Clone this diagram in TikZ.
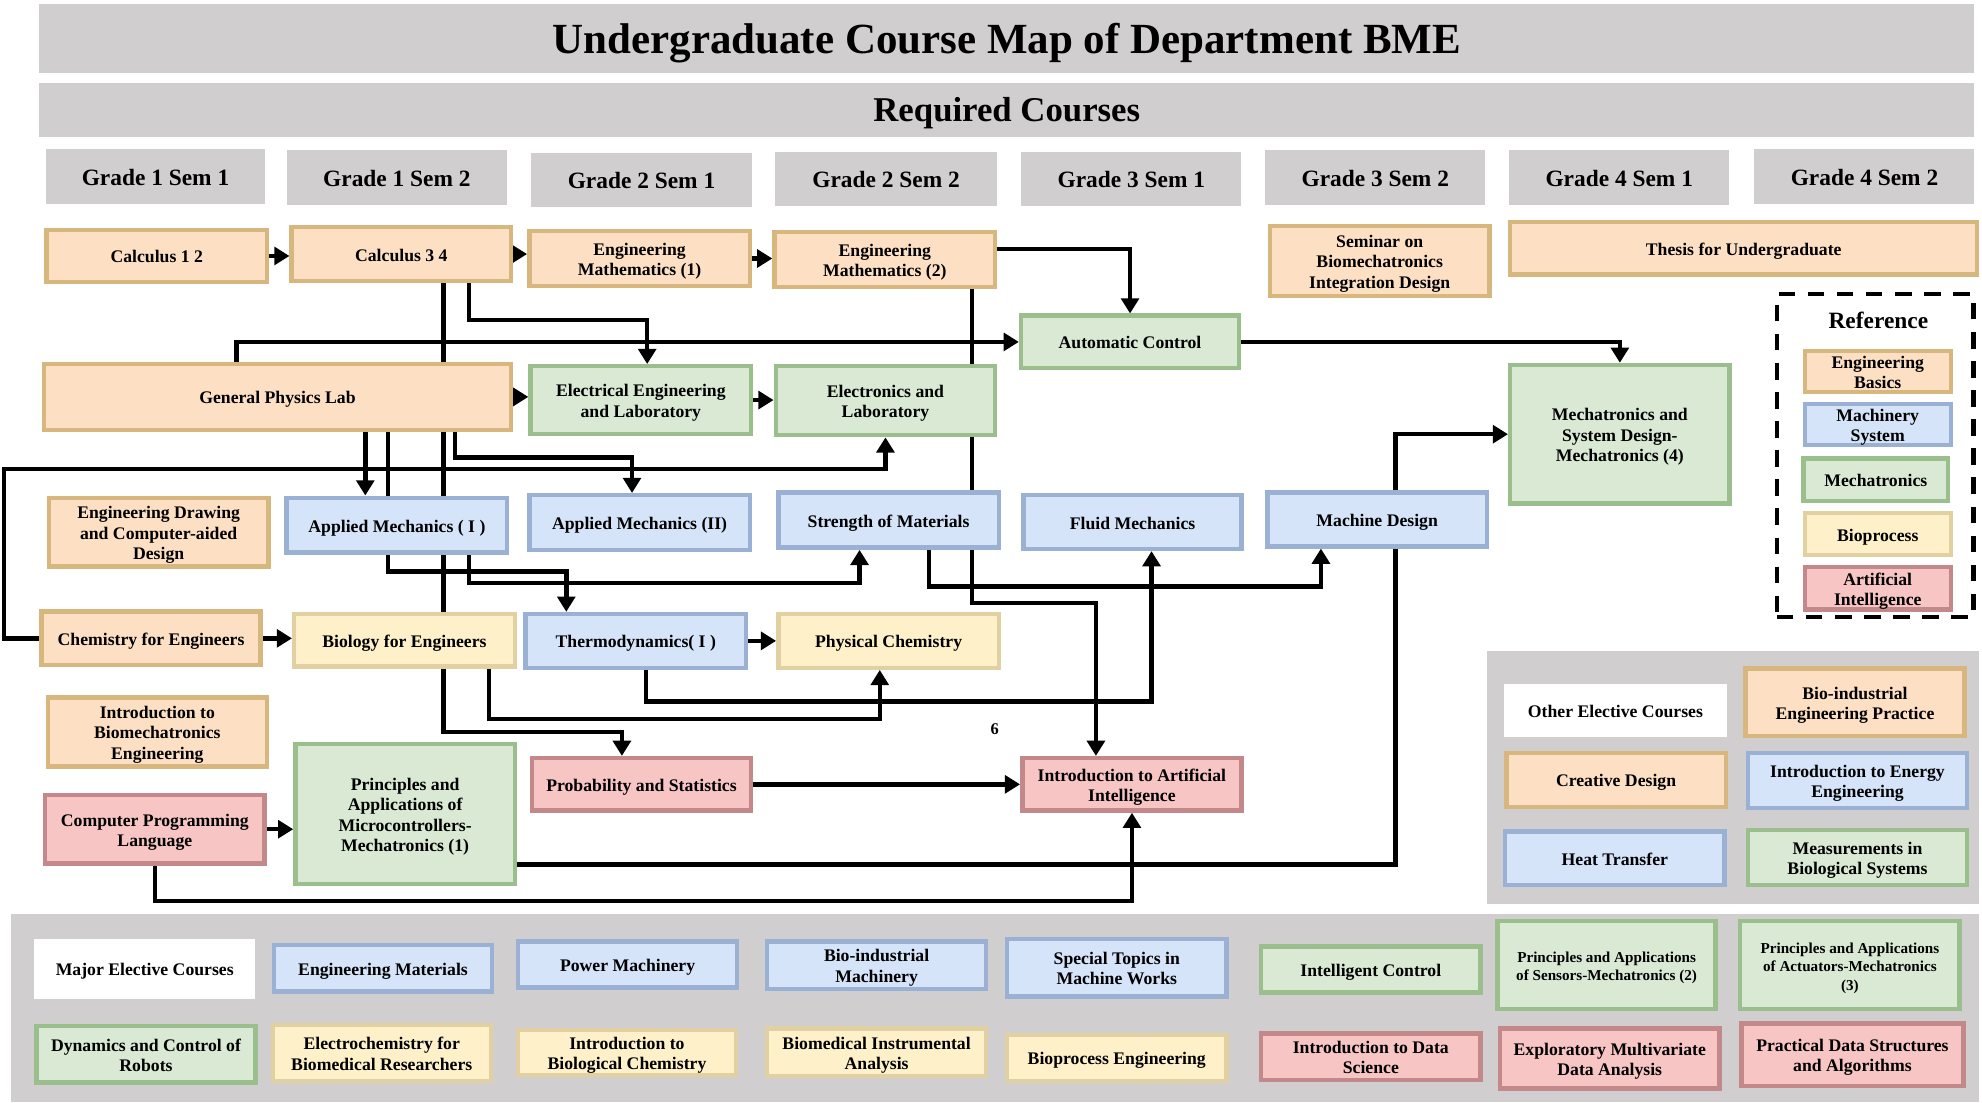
\documentclass[tikz,border=0pt]{standalone}
\usepackage{fontspec}
\setmainfont{Liberation Serif}
\usetikzlibrary{arrows.meta}
\definecolor{ebF}{HTML}{FDE0C4}
\definecolor{ebD}{HTML}{D8B77E}
\definecolor{msF}{HTML}{D5E4F8}
\definecolor{msD}{HTML}{9AB1D4}
\definecolor{meF}{HTML}{D9E9D4}
\definecolor{meD}{HTML}{9ABF8D}
\definecolor{bpF}{HTML}{FEF0C8}
\definecolor{bpD}{HTML}{E0D0A2}
\definecolor{aiF}{HTML}{F6C5C4}
\definecolor{aiD}{HTML}{C3898A}
\definecolor{grayP}{HTML}{D0CECF}
\pgfdeclarelayer{bg}\pgfdeclarelayer{lines}\pgfsetlayers{bg,lines,main}
\newcommand{\lowtext}[1]{\raisebox{-2.3pt}[\height][\depth]{\begin{tabular}{@{}c@{}}#1\end{tabular}}}
% name, style, x1, y1, x2, y2, text  (bordered course box, outer edges)
\newcommand{\cb}[7]{\node[#2, minimum width={#5-#3-3.5}, minimum height={#6-#4-3.5}] (#1) at ({(#3+#5)/2},{-(#4+#6)/2}) {\lowtext{#7}};}
% flat box without border
\newcommand{\fb}[7]{\node[#2, minimum width={#5-#3}, minimum height={#6-#4}] (#1) at ({(#3+#5)/2},{-(#4+#6)/2}) {#7};}
\tikzset{
  crsbox/.style={draw, line width=3.5pt, inner sep=0pt, align=center, font=\bfseries\fontsize{14}{16}\selectfont},
  cEB/.style={crsbox, fill=ebF, draw=ebD},
  cMS/.style={crsbox, fill=msF, draw=msD},
  cME/.style={crsbox, fill=meF, draw=meD},
  cBP/.style={crsbox, fill=bpF, draw=bpD},
  cAI/.style={crsbox, fill=aiF, draw=aiD},
  smallf/.style={font=\bfseries\fontsize{12}{14.5}\selectfont},
  whitebox/.style={fill=white, inner sep=0pt, align=center, font=\bfseries\fontsize{14}{16}\selectfont},
  gbar/.style={fill=grayP, inner sep=0pt, align=center},
  gradef/.style={gbar, font=\bfseries\fontsize{18.5}{22}\selectfont},
  conn/.style={line width=3.5pt, draw=black},
  arr/.style={conn, -{Triangle[length=12pt,width=14pt]}},
}
\newcommand{\gr}[1]{\raisebox{-7pt}[0pt][0pt]{#1}}
\begin{document}
\begin{tikzpicture}[x=1pt,y=1pt]
\useasboundingbox (0,0) rectangle (1568,-872);
% panels
\begin{pgfonlayer}{bg}
\fb{othP}{gbar}{1176}{515}{1566}{715}{}
\fb{majP}{gbar}{9}{723}{1566}{872}{}
\end{pgfonlayer}
% headers
\fb{title}{gbar, font=\bfseries\fontsize{34}{40}\selectfont}{31}{3}{1562}{58}{\raisebox{-11.5pt}[0pt][0pt]{Undergraduate Course Map of Department BME}}
\fb{req}{gbar, font=\bfseries\fontsize{27.5}{32}\selectfont}{31}{66}{1562}{108}{\raisebox{-9.5pt}[0pt][0pt]{Required Courses}}
\fb{g11}{gradef}{36}{118}{210}{161}{\gr{Grade 1 Sem 1}}
\fb{g12}{gradef}{227}{119}{401}{162}{\gr{Grade 1 Sem 2}}
\fb{g21}{gradef}{420}{121}{595}{164}{\gr{Grade 2 Sem 1}}
\fb{g22}{gradef}{613}{120}{789}{163}{\gr{Grade 2 Sem 2}}
\fb{g31}{gradef}{808}{120}{982}{163}{\gr{Grade 3 Sem 1}}
\fb{g32}{gradef}{1001}{119}{1175}{162}{\gr{Grade 3 Sem 2}}
\fb{g41}{gradef}{1194}{119}{1368}{162}{\gr{Grade 4 Sem 1}}
\fb{g42}{gradef}{1388}{118}{1562}{161}{\gr{Grade 4 Sem 2}}
% engineering basics
\cb{calc12}{cEB}{35}{180}{213}{225}{Calculus 1 2}
\cb{calc34}{cEB}{229}{178}{406}{224}{Calculus 3 4}
\cb{em1}{cEB}{417}{181}{595}{228}{Engineering\\Mathematics (1)}
\cb{em2}{cEB}{611}{182}{789}{229}{Engineering\\Mathematics (2)}
\cb{sem}{cEB}{1003}{177}{1180}{236}{Seminar on\\Biomechatronics\\Integration Design}
\cb{thesis}{cEB}{1193}{174}{1566}{219}{Thesis for Undergraduate}
\cb{gpl}{cEB}{33}{286}{406}{342}{General Physics Lab}
\cb{ed}{cEB}{37}{392}{214}{450}{Engineering Drawing\\and Computer-aided\\Design}
\cb{chem}{cEB}{31}{482}{208}{528}{Chemistry for Engineers}
\cb{ibe}{cEB}{36}{550}{213}{608}{Introduction to\\Biomechatronics\\Engineering}
% mechatronics
\cb{ac}{cME}{806}{248}{982}{293}{Automatic Control}
\cb{ee}{cME}{418}{288}{596}{345}{Electrical Engineering\\and Laboratory}
\cb{el}{cME}{612}{288}{789}{346}{Electronics and\\Laboratory}
\cb{msd}{cME}{1193}{287}{1370}{400}{Mechatronics and\\System Design-\\Mechatronics (4)}
\cb{mc1}{cME}{232}{587}{409}{701}{Principles and\\Applications of\\Microcontrollers-\\Mechatronics (1)}
% machinery
\cb{am1}{cMS}{225}{392}{403}{439}{Applied Mechanics ( I )}
\cb{am2}{cMS}{417}{390}{595}{437}{Applied Mechanics (II)}
\cb{som}{cMS}{614}{388}{792}{435}{Strength of Materials}
\cb{fm}{cMS}{808}{390}{984}{436}{Fluid Mechanics}
\cb{md}{cMS}{1001}{388}{1178}{434}{Machine Design}
\cb{thermo}{cMS}{414}{484}{592}{530}{Thermodynamics( I )}
% bioprocess
\cb{bio}{cBP}{231}{484}{409}{529}{Biology for Engineers}
\cb{pc}{cBP}{614}{484}{792}{530}{Physical Chemistry}
% AI
\cb{cpl}{cAI}{34}{627}{211}{685}{Computer Programming\\Language}
\cb{ps}{cAI}{419}{598}{596}{643}{Probability and Statistics}
\cb{iai}{cAI}{807}{598}{984}{643}{Introduction to Artificial\\Intelligence}
\node[font=\bfseries\fontsize{13}{15}\selectfont, anchor=base] (six) at (787,-581) {6};
% reference legend
\node[draw, line width=3.5pt, dash pattern=on 13pt off 10pt, minimum width=155.5pt, minimum height=255.5pt, inner sep=0pt] (refbox) at (1483.5,-360.5) {};
\node[font=\bfseries\fontsize{18.5}{22}\selectfont, anchor=base] (reftitle) at (1486,-260) {Reference};
\cb{legEB}{cEB}{1426}{276}{1545}{312}{Engineering\\Basics}
\cb{legMS}{cMS}{1426}{318}{1545}{354}{Machinery\\System}
\cb{legME}{cME}{1425}{361}{1543}{398}{Mechatronics}
\cb{legBP}{cBP}{1426}{404}{1545}{441}{Bioprocess}
\cb{legAI}{cAI}{1426}{447}{1545}{484}{Artificial\\Intelligence}
% other elective courses
\fb{oec}{whitebox}{1190}{541}{1366}{583}{\lowtext{Other Elective Courses}}
\cb{bip}{cEB}{1379}{527}{1556}{584}{Bio-industrial\\Engineering Practice}
\cb{crd}{cEB}{1190}{594}{1367}{640}{Creative Design}
\cb{iee}{cMS}{1381}{594}{1558}{641}{Introduction to Energy\\Engineering}
\cb{ht}{cMS}{1189}{656}{1366}{702}{Heat Transfer}
\cb{mbs}{cME}{1381}{655}{1558}{702}{Measurements in\\Biological Systems}
% major elective courses
\fb{mec}{whitebox}{27}{743}{202}{790}{\lowtext{Major Elective Courses}}
\cb{emat}{cMS}{215}{746}{391}{786}{Engineering Materials}
\cb{pm}{cMS}{408}{743}{585}{783}{Power Machinery}
\cb{bim}{cMS}{605}{743}{782}{784}{Bio-industrial\\Machinery}
\cb{stm}{cMS}{795}{741}{972}{790}{Special Topics in\\Machine Works}
\cb{ic}{cME}{996}{747}{1173}{787}{Intelligent Control}
\cb{pas}{cME, smallf}{1183}{727}{1359}{800}{Principles and Applications\\of Sensors-Mechatronics (2)}
\cb{paa}{cME, smallf}{1375}{727}{1552}{800}{Principles and Applications\\of Actuators-Mechatronics\\(3)}
\cb{dcr}{cME}{27}{810}{204}{858}{Dynamics and Control of\\Robots}
\cb{ebr}{cBP}{214}{809}{390}{857}{Electrochemistry for\\Biomedical Researchers}
\cb{ibc}{cBP}{408}{813}{584}{852}{Introduction to\\Biological Chemistry}
\cb{bia}{cBP}{605}{812}{782}{853}{Biomedical Instrumental\\Analysis}
\cb{bpe}{cBP}{795}{817}{972}{857}{Bioprocess Engineering}
\cb{ids}{cAI}{996}{816}{1173}{856}{Introduction to Data\\Science}
\cb{emda}{cAI}{1185}{812}{1362}{863}{Exploratory Multivariate\\Data Analysis}
\cb{pdsa}{cAI}{1376}{808}{1555}{861}{Practical Data Structures\\and Algorithms}
% connectors
\begin{pgfonlayer}{lines}
\draw[arr] (calc12.east) -- (calc12.east -| calc34.west);
\draw[arr] (calc34.east) -- (calc34.east -| em1.west);
\draw[arr] (em1.east) -- (em1.east -| em2.west);
\draw[arr] ([yshift=8.5pt]em2.east) -| (ac.north);
\draw[arr] ([xshift=53.5pt]calc34.south) -- ++(0,-29) -| ([xshift=5pt]ee.north);
\draw[arr] ([xshift=33.5pt]calc34.south) -- (351,-579) -| ([xshift=-15.5pt]ps.north);
\draw[arr] ([xshift=-32.5pt]gpl.north) |- (ac.west);
\draw[arr] (gpl.east) -- (gpl.east -| ee.west);
\draw[arr] (ee.east) -- (ee.east -| el.west);
\draw[arr] ([xshift=69pt]em2.south) -- (769,-477) -| ([xshift=-28.5pt]iai.north);
\draw[arr] ([xshift=32pt]som.south) -- (735,-464) -| ([xshift=-44.5pt]md.south);
\draw[arr] ([xshift=8pt]thermo.south) -- (511,-555) -| ([xshift=15pt]fm.south);
\draw[arr] ([yshift=-40pt]mc1.east) -- (1104,-684) |- (msd.west);
\draw[arr] (cpl.east) -- (cpl.east -| mc1.west);
\draw[arr] (cpl.south) -- ++(0,-28) -| (iai.south);
\draw[arr] (ps.east) -- (ps.east -| iai.west);
\draw[arr] (chem.east) -- (chem.east -| bio.west);
\draw[arr] (chem.west) -- ++(-28,0) -- ++(0,134) -| (el.south);
\draw[arr] ([xshift=69.5pt]gpl.south) -- ([xshift=69.5pt]gpl.south |- am1.north);
\draw[arr] ([xshift=87.5pt]gpl.south) -- (307,-452) -| ([xshift=-55pt]thermo.north);
\draw[arr] ([xshift=140.5pt]gpl.south) -- (360,-362) -| ([xshift=-6pt]am2.north);
\draw[arr] (thermo.east) -- (thermo.east -| pc.west);
\draw[arr] ([xshift=67pt]bio.south) -- (387,-569) -| ([xshift=-7pt]pc.south);
\draw[arr] ([xshift=57pt]am1.south) -- (371,-461) -| ([xshift=-23pt]som.south);
\draw[arr] (ac.east) -| (msd.north);
\end{pgfonlayer}
\end{tikzpicture}
\end{document}
